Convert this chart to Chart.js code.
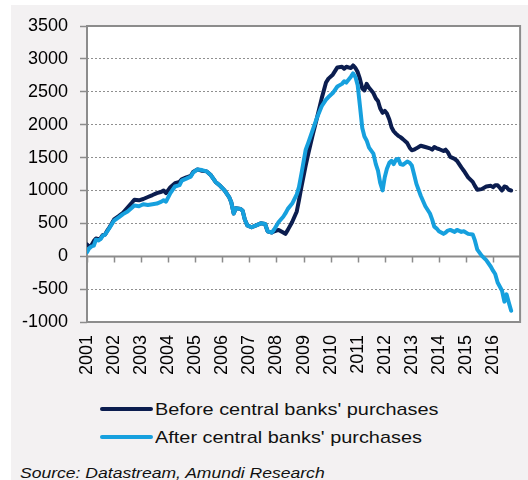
<!DOCTYPE html>
<html>
<head>
<meta charset="utf-8">
<script src="https://cdn.jsdelivr.net/npm/chart.js@4/dist/chart.umd.min.js"></script>
<style>
  html, body { margin: 0; padding: 0; background: #ffffff; }
  body { width: 528px; height: 480px; position: relative; overflow: hidden;
         font-family: "Liberation Sans", Arial, sans-serif; color: #111; }
  #panel { position: absolute; left: 11px; top: 5px; width: 517px; height: 475px; background: #f3f1f2; }
  #wrap { position: absolute; left: 0; top: 0; width: 528px; height: 395px; }
  .leg { position: absolute; left: 100px; height: 20px; }
  .leg .swatch { position: absolute; left: 0; width: 53px; height: 4px; border-radius: 2px; }
  .leg .txt { position: absolute; left: 55px; white-space: nowrap; font-size: 17px; line-height: 17px;
              transform: scaleX(1.17); transform-origin: 0 0; }
  #source { position: absolute; left: 20px; top: 465px; white-space: nowrap; font-size: 15px; line-height: 15px;
            font-style: italic; transform: scaleX(1.17); transform-origin: 0 0; color: #111; }
</style>
</head>
<body>
<div id="panel"></div>
<div id="wrap"><canvas id="chart" width="528" height="395"></canvas></div>
<div id="legend"></div>
<div id="source">Source: Datastream, Amundi Research</div>
<script>
// Excess liquidity, before and after central bank purchases (USD bn)
const seriesNames = ["Before central banks' purchases", "After central banks' purchases"];
const seriesColors = ['#0b1d4f', '#16a0de'];
const yearLabels = [2001, 2002, 2003, 2004, 2005, 2006, 2007, 2008, 2009, 2010, 2011, 2012, 2013, 2014, 2015, 2016];

const dates = [
  2001.00, 2001.08, 2001.17, 2001.25, 2001.33, 2001.42, 2001.50, 2001.58, 2001.67, 2001.75, 2001.83, 2001.92,
  2002.00, 2002.17, 2002.33, 2002.50, 2002.67, 2002.75, 2002.92,
  2003.08, 2003.25, 2003.42, 2003.58, 2003.75, 2003.83, 2003.92,
  2004.08, 2004.25, 2004.42, 2004.50, 2004.67, 2004.83, 2004.92,
  2005.08, 2005.25, 2005.42, 2005.58, 2005.75, 2005.92,
  2006.08, 2006.25, 2006.33, 2006.42, 2006.50, 2006.67, 2006.75, 2006.83, 2006.92,
  2007.08, 2007.25, 2007.42, 2007.58, 2007.67, 2007.83, 2007.92,
  2008.08, 2008.25, 2008.33, 2008.42, 2008.58, 2008.75, 2008.83, 2008.92,
  2009.08, 2009.17, 2009.33, 2009.50, 2009.67, 2009.83, 2009.92,
  2010.08, 2010.25, 2010.42, 2010.50, 2010.58, 2010.75, 2010.83, 2010.92,
  2011.00, 2011.08, 2011.17, 2011.25, 2011.33, 2011.42, 2011.58, 2011.67, 2011.75, 2011.83, 2011.92,
  2012.00, 2012.08, 2012.17, 2012.25, 2012.33, 2012.42, 2012.50, 2012.58, 2012.67, 2012.83, 2012.92,
  2013.00, 2013.08, 2013.17, 2013.33, 2013.50, 2013.67, 2013.75, 2013.83, 2013.92,
  2014.00, 2014.17, 2014.25, 2014.33, 2014.42, 2014.58, 2014.67, 2014.83, 2014.92,
  2015.08, 2015.25, 2015.33, 2015.42, 2015.58, 2015.75, 2015.92,
  2016.00, 2016.08, 2016.17, 2016.25, 2016.33, 2016.42, 2016.50, 2016.58, 2016.67
];

const before = [
  180, 150, 170, 230, 270, 260, 270, 320, 330, 390, 440, 500,
  560, 610, 660, 740, 820, 860, 850,
  870, 900, 930, 960, 980, 1000, 960,
  1050, 1110, 1130, 1170, 1200, 1220, 1280,
  1320, 1300, 1290, 1230, 1130, 1070,
  1000, 900, 820, 650, 730, 720, 690, 560, 470,
  440, 470, 500, 490, 380, 360, 380,
  400, 360, 340, 400, 520, 680, 850, 1050,
  1380, 1550, 1830, 2110, 2400, 2640, 2700,
  2760, 2870, 2880, 2850, 2880, 2860, 2900, 2860,
  2800, 2700, 2550, 2520, 2620, 2560, 2480, 2400, 2360, 2250, 2180,
  2210, 2170, 2080, 1960, 1900, 1860, 1830, 1810, 1780, 1720, 1650,
  1610, 1620, 1640, 1680, 1660, 1640, 1620, 1660, 1640,
  1630, 1600, 1620, 1580, 1510, 1480, 1450, 1350, 1300,
  1200, 1130, 1070, 1010, 1020, 1060, 1070,
  1050, 1080, 1080, 1040, 1000, 1060, 1050, 1010, 1000
];

const after = [
  60, 120, 150, 160, 250, 240, 260, 310, 330, 380, 430, 490,
  540, 590, 640, 680, 740, 770, 760,
  790, 780, 790, 800, 830, 850, 830,
  960, 1060, 1080, 1150, 1180, 1210, 1270,
  1320, 1310, 1290, 1230, 1130, 1070,
  1000, 900, 820, 650, 730, 720, 690, 560, 470,
  440, 470, 500, 490, 380, 360, 410,
  520, 600, 650, 720, 800, 940, 1050, 1250,
  1620, 1720, 1910, 2110, 2280, 2380, 2420,
  2480, 2580, 2620, 2660, 2640, 2730, 2780, 2720,
  2600, 2300, 1950, 1820, 1760, 1650, 1560, 1400, 1300, 1120, 1000,
  1200, 1330, 1420, 1450, 1400, 1470, 1480, 1400, 1390, 1440, 1420,
  1380, 1250, 1100, 920, 760, 650, 560, 450, 420,
  380, 340, 360, 390, 400, 370, 400, 370, 380,
  340, 330, 240, 100, 10, -60, -160,
  -220, -270, -400, -460, -520, -690, -580, -700, -830
];

const AXIS_GREY = '#8c8c8c';

// White plot background, box frame, solid zero line and year tick marks on it
const framePlugin = {
  id: 'frame',
  beforeDraw(chart) {
    const { ctx, chartArea: a } = chart;
    ctx.save();
    ctx.fillStyle = '#ffffff';
    ctx.fillRect(a.left, a.top, a.right - a.left, a.bottom - a.top);
    ctx.restore();
  },
  beforeDatasetsDraw(chart) {
    const { ctx, chartArea: a, scales } = chart;
    const x = scales.x, y = scales.y;
    const y0 = Math.round(y.getPixelForValue(0)) + 0.5;
    ctx.save();
    ctx.strokeStyle = AXIS_GREY;
    ctx.lineWidth = 2;
    ctx.strokeRect(a.left, a.top, a.right - a.left, a.bottom - a.top);
    ctx.beginPath();
    ctx.moveTo(a.left, y0);
    ctx.lineTo(a.right, y0);
    ctx.stroke();
    ctx.lineWidth = 1.5;
    ctx.beginPath();
    yearLabels.forEach(yr => {
      const px = Math.round(x.getPixelForValue(yr)) + 0.5;
      ctx.moveTo(px, y0);
      ctx.lineTo(px, y0 + 6);
    });
    ctx.stroke();
    ctx.restore();
  }
};

const toPoints = vals => vals.map((v, i) => ({ x: dates[i], y: v }));

new Chart(document.getElementById('chart'), {
  type: 'line',
  data: {
    datasets: [
      { label: seriesNames[0], data: toPoints(before), borderColor: seriesColors[0], backgroundColor: seriesColors[0],
        borderWidth: 4, pointRadius: 0, tension: 0, borderJoinStyle: 'round', borderCapStyle: 'round', order: 1 },
      { label: seriesNames[1], data: toPoints(after), borderColor: seriesColors[1], backgroundColor: seriesColors[1],
        borderWidth: 4, pointRadius: 0, tension: 0, borderJoinStyle: 'round', borderCapStyle: 'round', order: 0 }
    ]
  },
  options: {
    responsive: false,
    animation: false,
    events: [],
    layout: { padding: { top: 26, right: 6, left: 0, bottom: 0 } },
    plugins: { legend: { display: false }, tooltip: { enabled: false } },
    scales: {
      x: {
        type: 'linear',
        min: 2001,
        max: 2017,
        afterBuildTicks(scale) {
          scale.ticks = yearLabels.map(v => ({ value: v }));
        },
        afterFit(scale) { scale.height = 73; },
        grid: { display: false, drawTicks: false },
        border: { display: false },
        ticks: {
          autoSkip: false,
          minRotation: 90,
          maxRotation: 90,
          padding: 13,
          color: '#000',
          font: { family: '"Liberation Sans", Arial, sans-serif', size: 18 },
          callback: v => String(v)
        }
      },
      y: {
        min: -1000,
        max: 3500,
        afterFit(scale) { scale.width = 87; },
        grid: {
          color: c => (c.tick && [0, -1000, 3500].includes(c.tick.value)) ? 'rgba(0,0,0,0)' : '#8f8f8f',
          lineWidth: 1,
          tickLength: 7,
          tickColor: AXIS_GREY,
          tickWidth: 1.5
        },
        border: { display: false, dash: [2, 2] },
        ticks: {
          stepSize: 500,
          padding: 12,
          color: '#000',
          font: { family: '"Liberation Sans", Arial, sans-serif', size: 18 },
          callback: v => String(v)
        }
      }
    }
  },
  plugins: [framePlugin]
});

// Legend rows: coloured line sample followed by the series name
const legend = document.getElementById('legend');
const legendTops = [398, 426];
seriesNames.forEach((name, i) => {
  const row = document.createElement('div');
  row.className = 'leg';
  row.style.top = legendTops[i] + 'px';
  const sw = document.createElement('div');
  sw.className = 'swatch';
  sw.style.top = '9px';
  sw.style.background = seriesColors[i];
  const t = document.createElement('div');
  t.className = 'txt';
  t.style.top = '3px';
  t.textContent = name;
  row.appendChild(sw);
  row.appendChild(t);
  legend.appendChild(row);
});
</script>
</body>
</html>
